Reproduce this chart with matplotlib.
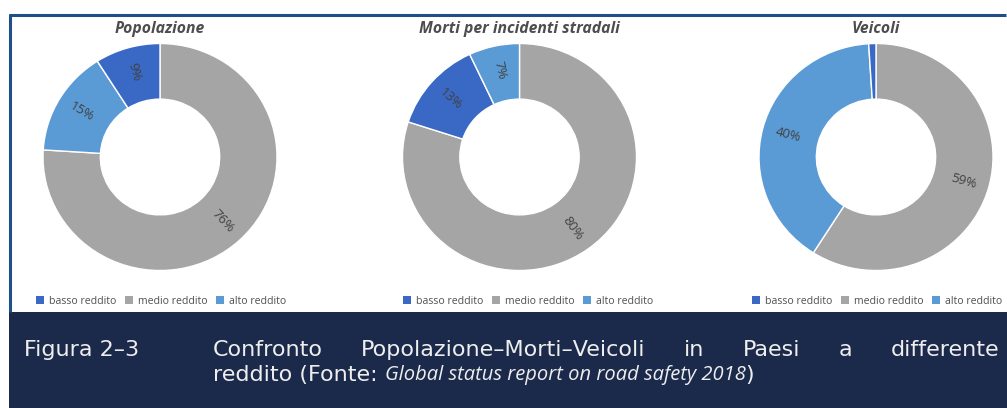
import numpy as np
import matplotlib
matplotlib.use("Agg")
import matplotlib.pyplot as plt
from matplotlib.patches import Patch, Rectangle
from matplotlib.lines import Line2D

# Data
categories = ["basso reddito", "medio reddito", "alto reddito"]
popolazione = [9, 76, 15]
morti = [13, 80, 7]
veicoli = [1, 59, 40]
titles = ["Popolazione", "Morti per incidenti stradali", "Veicoli"]
# drawing order clockwise from 12 o'clock (index into categories)
orders = [[1, 2, 0], [1, 0, 2], [1, 2, 0]]

colors = ["#3a69c5", "#a5a5a5", "#5b9bd5"]
NAVY = "#1b2a4a"
BORDER = "#1f4e89"

W, H = 1007, 408
fig = plt.figure(figsize=(W / 100, H / 100), dpi=100)
fig.patch.set_facecolor("white")

centers = [(160, 157), (519.5, 157), (876, 157)]
rx, ry = 117, 113.5
lim = 1.1

def px_axes(cx, cy):
    w = 2 * rx * lim
    h = 2 * ry * lim
    return fig.add_axes([(cx - w / 2) / W, (H - cy - h / 2) / H, w / W, h / H])

for k, data in enumerate([popolazione, morti, veicoli]):
    cx, cy = centers[k]
    ax = px_axes(cx, cy)
    order = orders[k]
    vals = [data[i] for i in order]
    cols = [colors[i] for i in order]
    wedges, _ = ax.pie(vals, colors=cols, startangle=90, counterclock=False,
                       radius=1.0, wedgeprops=dict(width=0.49, edgecolor="white", linewidth=1.0))
    ax.set_aspect("auto")
    ax.set_xlim(-lim, lim)
    ax.set_ylim(-lim, lim)
    ax.axis("off")
    for w, v in zip(wedges, vals):
        if v < 3:
            continue
        ang = (w.theta1 + w.theta2) / 2
        a = np.deg2rad(ang)
        rr = 0.78
        rot = ang if np.cos(a) >= 0 else ang - 180
        rot = (rot + 180) % 360 - 180
        ax.text(rr * np.cos(a), rr * np.sin(a), f"{v}%", rotation=rot,
                rotation_mode="anchor", ha="center", va="center",
                fontsize=9.5, color="#404040", family="Open Sans")
    fig.text(cx / W, 1 - 29 / H, titles[k], ha="center", va="center",
             fontsize=11.3, fontweight="bold", style="italic", color="#4d4d4d",
             family="Open Sans")

# legends
handles = [Patch(facecolor=c, edgecolor="none") for c in colors]
leg_x = [161, 528, 877]
for lx in leg_x:
    fig.legend(handles, categories, loc="center", bbox_to_anchor=(lx / W, 1 - 301 / H),
               ncol=3, frameon=False, handlelength=0.75, handleheight=0.75,
               handletextpad=0.5, columnspacing=0.8, labelcolor="#505050",
               prop=dict(family="Open Sans", size=7.6))

# frame lines
fig.add_artist(Line2D([9 / W, 1006 / W], [1 - 15 / H, 1 - 15 / H], color=BORDER, lw=2.2,
                      solid_capstyle="butt"))
fig.add_artist(Line2D([10 / W, 10 / W], [1 - 14 / H, 1 - 312 / H], color=BORDER, lw=2.2,
                      solid_capstyle="butt"))

# caption box
fig.add_artist(Rectangle((9 / W, 0), 1 - 9 / W, 1 - 312 / H, transform=fig.transFigure,
                         facecolor=NAVY, edgecolor="none"))

cap_font = "DejaVu Sans"
cap_col = "#eeeeee"
cap_fs = 16
y1 = 1 - 350 / H
y2 = 1 - 375 / H
fig.text(24 / W, y1, "Figura 2\u20133", ha="left", va="center", fontsize=cap_fs,
         color=cap_col, family=cap_font)

fig.canvas.draw()
renderer = fig.canvas.get_renderer()

words = "Confronto Popolazione\u2013Morti\u2013Veicoli in Paesi a differente".split()
x0, x1 = 213, 999
txts = [fig.text(0, y1, w, ha="left", va="center", fontsize=cap_fs, color=cap_col,
                 family=cap_font) for w in words]
widths = [t.get_window_extent(renderer).width for t in txts]
gap = (x1 - x0 - sum(widths)) / (len(words) - 1)
x = x0
for t, wd in zip(txts, widths):
    t.set_x(x / W)
    x += wd + gap

parts = [("reddito (Fonte: ", "normal", cap_font, cap_fs),
         ("Global status report on road safety 2018", "italic", "Open Sans", 14.5),
         (")", "normal", cap_font, cap_fs)]
x = x0
for s, st, fam, fs in parts:
    t = fig.text(x / W, y2, s, ha="left", va="center", fontsize=fs, style=st,
                 color=cap_col, family=fam)
    x += t.get_window_extent(renderer).width

fig.savefig("out.png", dpi=100, facecolor="white")
